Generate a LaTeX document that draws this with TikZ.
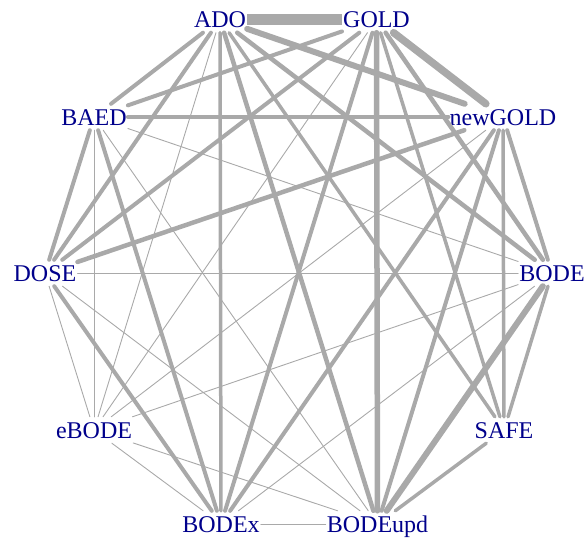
\documentclass[tikz,border=0pt]{standalone}
\usepackage{fontspec}
\setmainfont{Liberation Serif}
\definecolor{dblue}{HTML}{00008B}
\definecolor{edgegray}{HTML}{A9A9A9}
\begin{document}
\begin{tikzpicture}[x=1pt,y=-1pt,
  lab/.style={text=dblue, font=\fontsize{24}{24}\selectfont, inner xsep=1pt, inner ysep=5pt, text height=16pt, text depth=0pt},
  ed/.style={draw=edgegray, line cap=round, line width=#1},
  ed/.default=4pt]
\useasboundingbox (0,0) rectangle (588,538);
\node[lab] (ADO) at (220,19.5) {ADO};
\node[lab] (GOLD) at (376.5,19.5) {GOLD};
\node[lab] (newGOLD) at (503,117) {newGOLD};
\node[lab] (BODE) at (552,273) {BODE};
\node[lab] (SAFE) at (504,430) {SAFE};
\node[lab] (BODEupd) at (377.5,524) {BODEupd};
\node[lab] (BODEx) at (221,524) {BODEx};
\node[lab] (eBODE) at (94,430) {eBODE};
\node[lab] (DOSE) at (45,273) {DOSE};
\node[lab] (BAED) at (94,117) {BAED};
% thin edges
\foreach \a/\b in {ADO/eBODE, GOLD/eBODE, newGOLD/eBODE, BAED/BODE, BAED/eBODE, BAED/BODEupd,
  DOSE/BODE, DOSE/eBODE, DOSE/BODEupd, eBODE/BODE, eBODE/BODEx, eBODE/BODEupd, BODEx/BODE, BODEx/BODEupd}
  \draw[ed=0.9pt] (\a) -- (\b);
% thicker edges
\foreach \a/\b/\w in {ADO/BAED/4, ADO/DOSE/4, ADO/BODEx/3.5, ADO/BODEupd/4.5, ADO/SAFE/3.5, ADO/BODE/4.5,
  GOLD/BAED/4, GOLD/DOSE/4, GOLD/BODEx/4, GOLD/BODEupd/5.5, GOLD/SAFE/3.5, GOLD/BODE/4.5,
  newGOLD/BAED/4, newGOLD/DOSE/4.5, newGOLD/BODEx/4, newGOLD/BODEupd/4, newGOLD/SAFE/3.5, newGOLD/BODE/4,
  BAED/DOSE/4, BAED/BODEx/4, DOSE/BODEx/4, BODEupd/BODE/6, BODEupd/SAFE/3.5, BODE/SAFE/3.5,
  ADO/newGOLD/6, GOLD/newGOLD/7.5}
  \draw[ed=\w pt] (\a) -- (\b);
\draw[ed=11pt, line cap=butt] (ADO) -- (GOLD);
\end{tikzpicture}
\end{document}
